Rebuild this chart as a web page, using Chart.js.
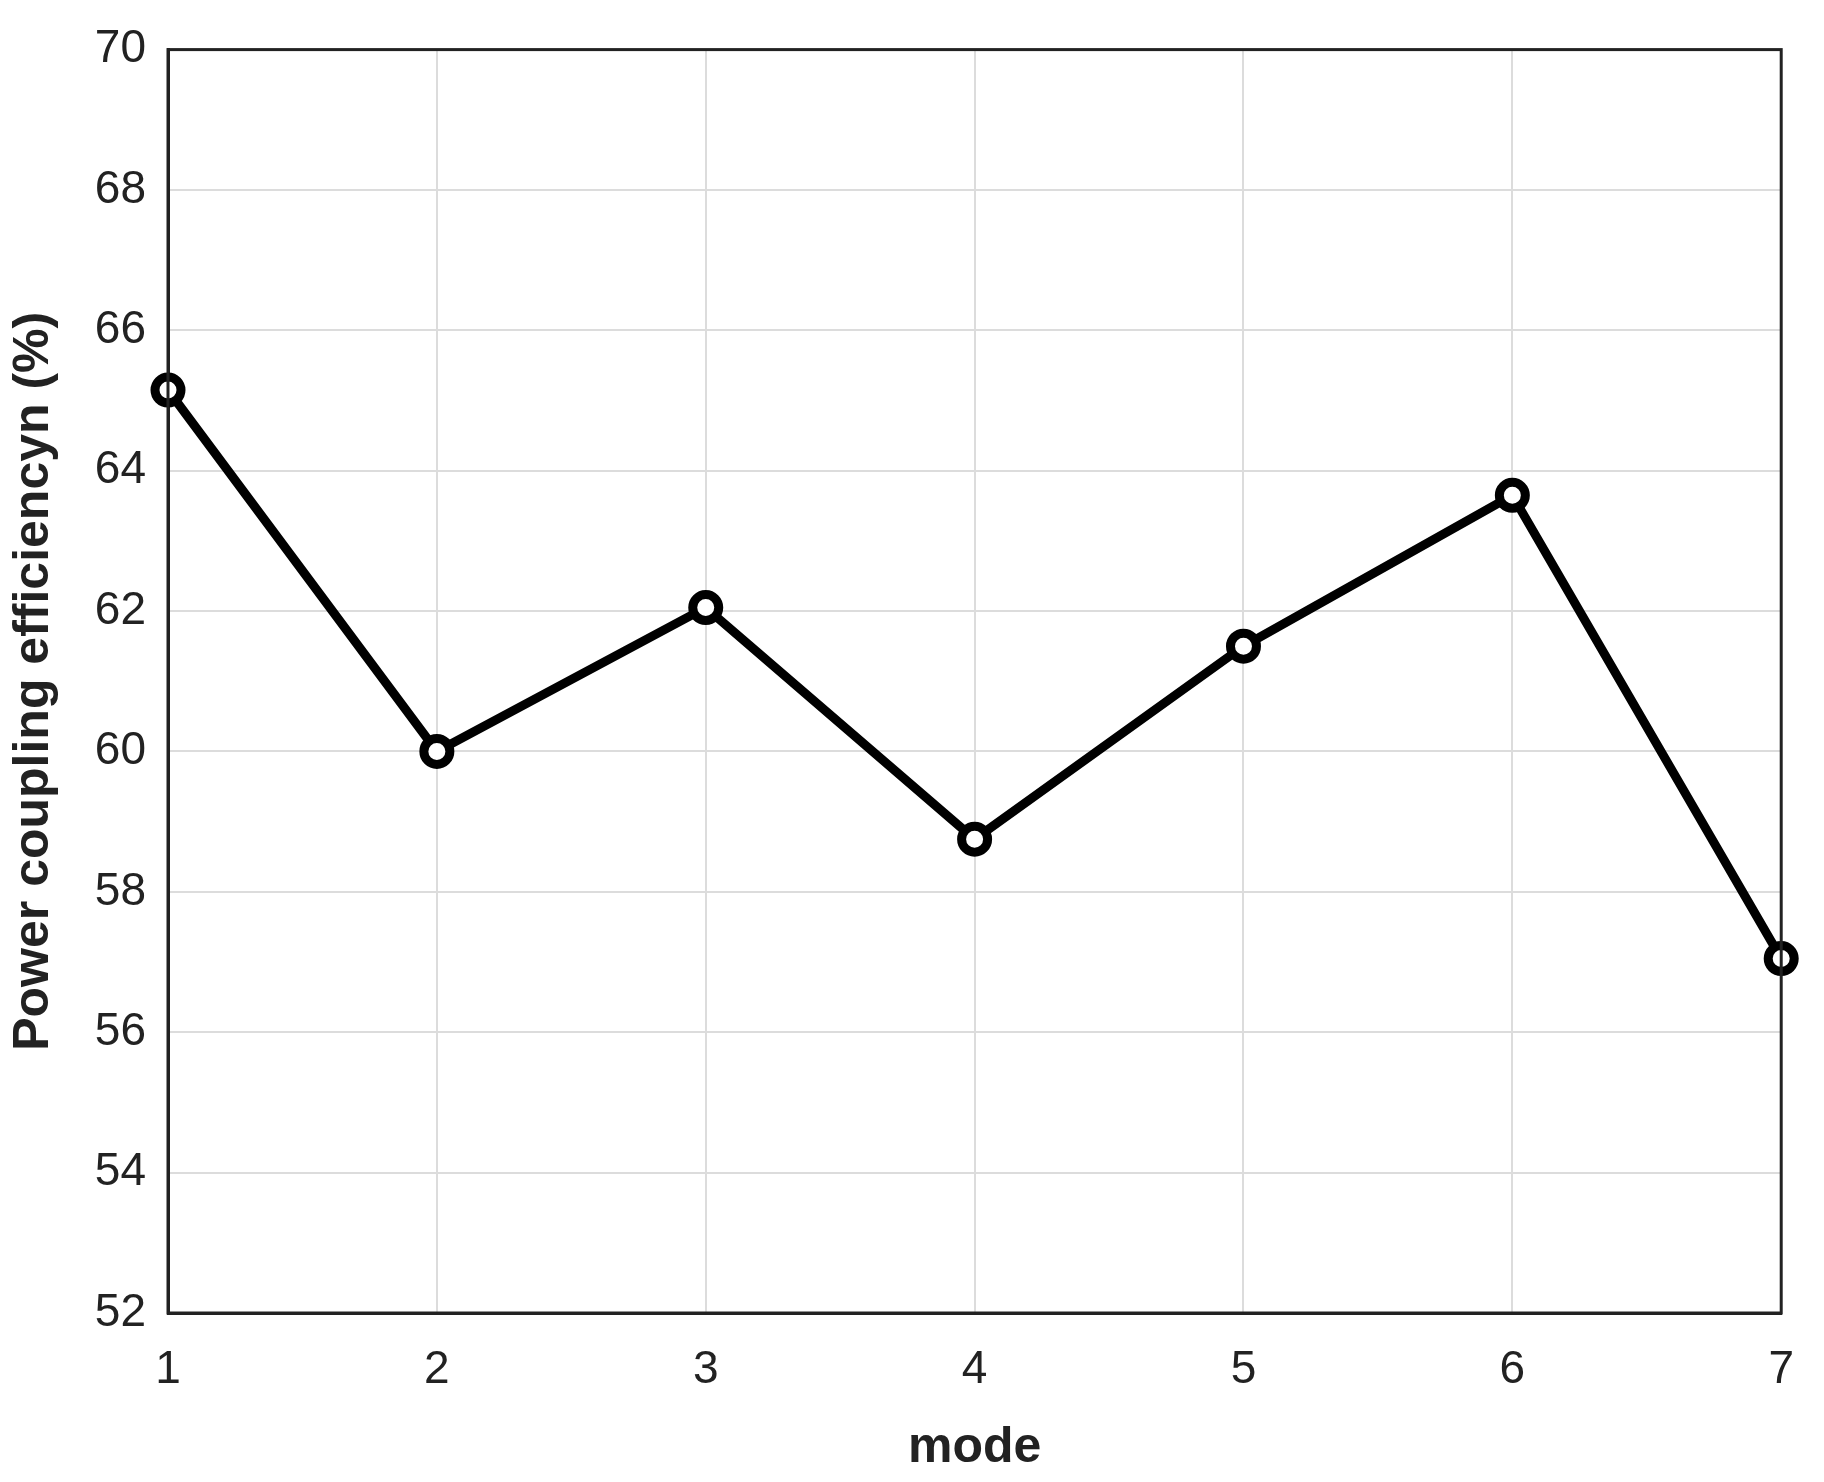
<!DOCTYPE html><html><head><script src="https://cdn.jsdelivr.net/npm/chart.js@4"></script>
<style>body{margin:0;background:#fff}#w{width:1824px;height:1482px}</style></head><body><div id="w"><canvas id="c"></canvas></div>
<script>
const modes=['1','2','3','4','5','6','7'];
const efficiency=[65.15,60.0,62.05,58.75,61.5,63.65,57.05];
const yTicks=[52,54,56,58,60,62,64,66,68,70];
const F='Arial, "Liberation Sans", sans-serif';
new Chart(document.getElementById('c'),{type:'line',
data:{labels:modes,datasets:[{data:efficiency,borderColor:'#000',borderWidth:9,pointRadius:13,pointBorderWidth:9,pointBackgroundColor:'#fff',pointBorderColor:'#000',tension:0,clip:false}]},
options:{responsive:true,maintainAspectRatio:false,animation:false,
layout:{padding:{top:31,right:36,left:0,bottom:0}},
plugins:{legend:{display:false},tooltip:{enabled:false}},
scales:{
x:{type:'linear',min:1,max:7,afterBuildTicks:a=>{a.ticks=modes.map(m=>({value:+m}))},
 grid:{color:'#dcdcdc',lineWidth:2,drawTicks:false},border:{color:'#222',width:3},
 ticks:{color:'#222',font:{family:F,size:46},padding:30},
 title:{display:true,text:'mode',color:'#222',font:{family:F,size:50,weight:'bold'},padding:{top:14}},
 afterFit:a=>{a.height=169}},
y:{min:52,max:70,afterBuildTicks:a=>{a.ticks=yTicks.map(v=>({value:v}))},
 grid:{color:'#dcdcdc',lineWidth:2,drawTicks:false},border:{color:'#222',width:3},
 ticks:{color:'#222',font:{family:F,size:46},padding:22},
 title:{display:true,text:'Power coupling efficiencyn (%)',color:'#222',font:{family:F,size:50,weight:'bold'},padding:{bottom:0}},
 afterFit:a=>{a.width=168}}
}},
plugins:[{id:'frame',afterDraw(c){const a=c.chartArea,g=c.ctx;g.save();g.strokeStyle='#222';g.lineWidth=3;g.strokeRect(a.left,a.top,a.right-a.left,a.bottom-a.top);g.restore();}}]
});
</script></body></html>
